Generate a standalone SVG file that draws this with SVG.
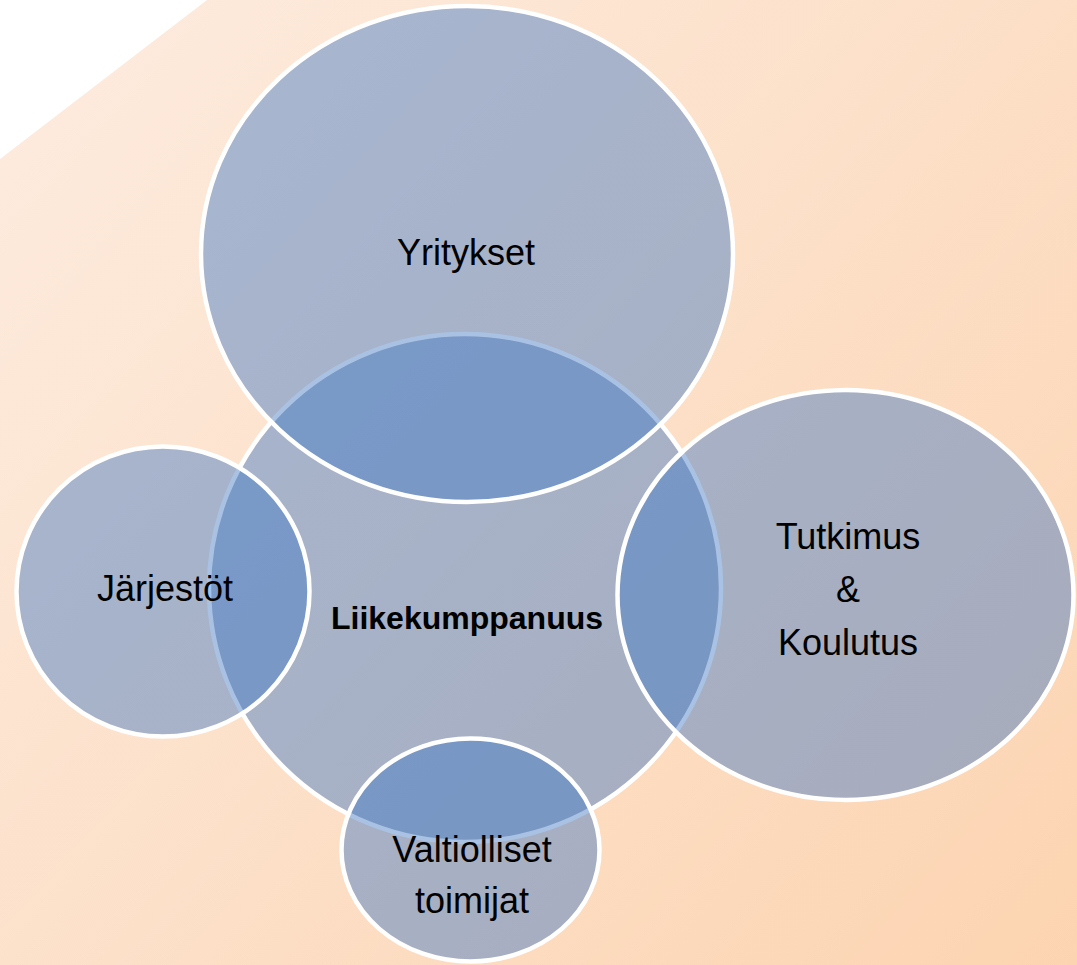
<svg xmlns="http://www.w3.org/2000/svg" width="1077" height="965" viewBox="0 0 1077 965">
  <defs>
    <linearGradient id="bg" x1="0" y1="0" x2="1077" y2="965" gradientUnits="userSpaceOnUse">
      <stop offset="0" stop-color="#fdece0"/>
      <stop offset="1" stop-color="#fcd4b1"/>
    </linearGradient>
    <style>
      .c { fill: rgb(68,123,197); fill-opacity: 0.46; stroke: #ffffff; stroke-width: 4.5; }
      .t { font-family: "Liberation Sans", Arial, sans-serif; font-size: 36px; fill: #000000; text-anchor: middle; }
      .b { font-family: "Liberation Sans", Arial, sans-serif; font-size: 32px; font-weight: bold; fill: #000000; text-anchor: middle; }
    </style>
  </defs>
  <rect x="0" y="0" width="1077" height="965" fill="#ffffff"/>
  <polygon points="207,0 1077,0 1077,965 0,965 0,159" fill="url(#bg)"/>

  <g id="node-liikekumppanuus">
    <ellipse class="c" cx="465" cy="588" rx="256" ry="254"/>
  </g>
  <g id="node-yritykset">
    <ellipse class="c" cx="467" cy="254" rx="266" ry="248"/>
  </g>
  <g id="node-jarjestot">
    <ellipse class="c" cx="163" cy="591.5" rx="146.5" ry="145"/>
  </g>
  <g id="node-tutkimus">
    <ellipse class="c" cx="845.5" cy="595" rx="228" ry="205"/>
  </g>
  <g id="node-valtiolliset">
    <ellipse class="c" cx="470.5" cy="850" rx="129" ry="111.5"/>
  </g>

  <g id="labels">
    <text class="t" x="466" y="265">Yritykset</text>
    <text class="t" x="165" y="601">Järjestöt</text>
    <text class="t" x="848" y="549">Tutkimus</text>
    <text class="t" x="848" y="602">&amp;</text>
    <text class="t" x="848" y="655">Koulutus</text>
    <text class="t" x="472" y="862">Valtiolliset</text>
    <text class="t" x="472" y="913">toimijat</text>
    <text class="b" x="467" y="629">Liikekumppanuus</text>
  </g>
  <g id="connectors"></g>
</svg>
